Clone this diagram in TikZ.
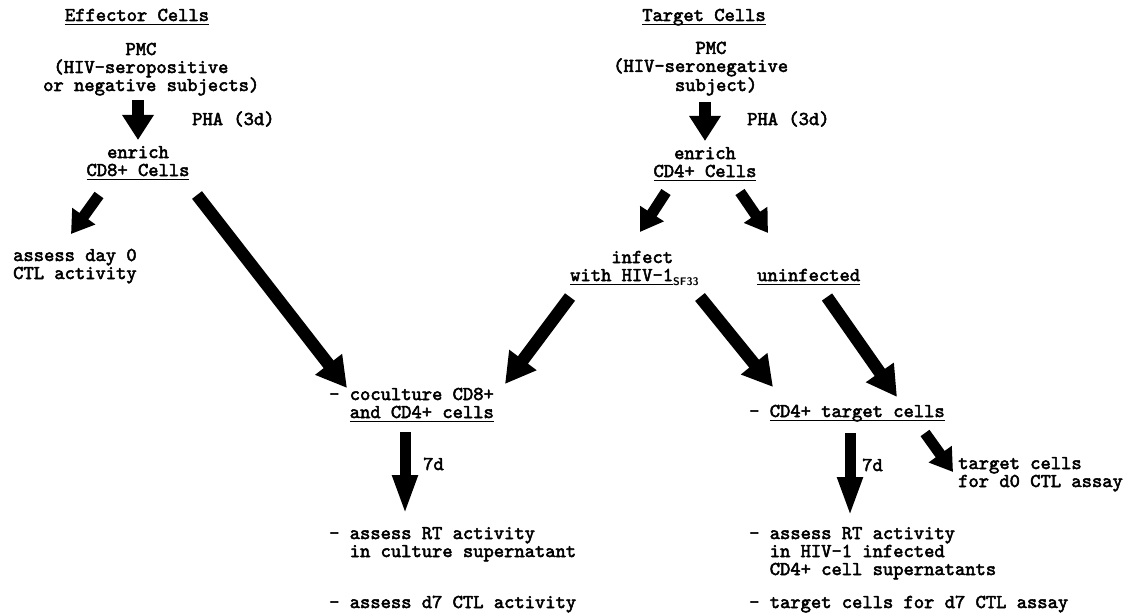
\documentclass[tikz,border=0pt]{standalone}
\usepackage{fontspec}
\setmonofont{lmmono10-regular}[Extension=.otf, AutoFakeBold=2.6]
\usetikzlibrary{arrows.meta}
\newcommand\mytt{\ttfamily\bfseries\fontsize{19.6}{18}\selectfont}
\newcommand\ind[1]{\hspace*{\dimexpr0.525em*#1\relax}}
\newcommand\undl[1]{\setbox0=\hbox{#1}\rlap{\vrule height -2.6pt depth 4.4pt width \wd0}\box0}
\begin{document}
\begin{tikzpicture}[x=1pt,y=-1pt,
  txt/.style={font=\mytt, inner sep=0pt, anchor=base west, align=left},
  ctxt/.style={txt, anchor=base, align=center},
  bigv/.style={line width=12pt, -{Triangle[length=25pt,width=30pt]}},
  diag/.style={line width=12.5pt, -{Triangle[length=30pt,width=32pt]}},
  sdiag/.style={line width=11pt, -{Triangle[length=22pt,width=27pt]}},
  longv/.style={line width=11pt, -{Triangle[length=40pt,width=23pt]}}]
\fill[white] (0,0) rectangle (1124,615);
\useasboundingbox (0,0) rectangle (1124,615);

% texts (multi-line nodes are placed by the baseline of their last line)
\node[ctxt] (effH) at (137,21) {\undl{Effector Cells}};
\node[txt] (effPMC) at (43,91) {\ind{8}PMC\\\ind{1}(HIV–seropositive\\or negative subjects)};
\node[txt] (phaE) at (192,125) {PHA (3d)};
\node[ctxt] (effEnr) at (138,176) {enrich\\\undl{CD8+ Cells}};
\node[txt] (day0) at (13,279) {assess day 0\\CTL activity};

\node[ctxt] (tgtH) at (704,21) {\undl{Target Cells}};
\node[txt] (tgtPMC) at (613,91) {\ind{8}PMC\\(HIV–seronegative\\\ind{6}subject)};
\node[txt] (phaT) at (747,125) {PHA (3d)};
\node[ctxt] (tgtEnr) at (705,177) {enrich\\\undl{CD4+ Cells}};
\node[txt] (infect) at (570,281) {\ind{4}infect\\\undl{with HIV-1}\raisebox{-4pt}{\sffamily\bfseries\fontsize{11}{11}\selectfont SF33}};
\node[txt] (uninf) at (757,281) {\undl{uninfected}};

\node[txt] (cocult) at (329,418) {- coculture CD8+\\\ind{2}\undl{and CD4+ cells}};
\node[txt] (cd4t) at (749,417) {- \undl{CD4+ target cells}};
\node[txt] (d7a) at (423,470) {7d};
\node[txt] (d7b) at (862,471) {7d};
\node[txt] (d0) at (958,487) {target cells\\for d0 CTL assay};
\node[txt] (rtL) at (329,557) {- assess RT activity\\\ind{2}in culture supernatant};
\node[txt] (ctlL) at (329,608) {- assess d7 CTL activity};
\node[txt] (rtR) at (749,575) {- assess RT activity\\\ind{2}in HIV-1 infected\\\ind{2}CD4+ cell supernatants};
\node[txt] (ctlR) at (749,608) {- target cells for d7 CTL assay};

% arrow end points
\coordinate (a1s) at (138,100); \coordinate (a1e) at (138,140);
\coordinate (a2s) at (705,102); \coordinate (a2e) at (705,141);
\coordinate (a3s) at (99,195);  \coordinate (a3e) at (71,234);
\coordinate (a4s) at (197,195); \coordinate (a4e) at (347,388);
\coordinate (a5s) at (666,192); \coordinate (a5e) at (640,232);
\coordinate (a6s) at (740,192); \coordinate (a6e) at (768,233);
\coordinate (a7s) at (570,297); \coordinate (a7e) at (505,384);
\coordinate (a8s) at (700,297); \coordinate (a8e) at (773,387);
\coordinate (a9s) at (827,297); \coordinate (a9e) at (897,397);
\coordinate (a10s) at (405,432); \coordinate (a10e) at (405,515);
\coordinate (a11s) at (850,433); \coordinate (a11e) at (850,517);
\coordinate (a12s) at (925,433); \coordinate (a12e) at (953,472);

\draw[bigv] (a1s) -- (a1e);
\draw[bigv] (a2s) -- (a2e);
\draw[sdiag] (a3s) -- (a3e);
\draw[diag] (a4s) -- (a4e);
\draw[sdiag] (a5s) -- (a5e);
\draw[sdiag] (a6s) -- (a6e);
\draw[diag] (a7s) -- (a7e);
\draw[diag] (a8s) -- (a8e);
\draw[diag] (a9s) -- (a9e);
\draw[longv] (a10s) -- (a10e);
\draw[longv] (a11s) -- (a11e);
\draw[sdiag] (a12s) -- (a12e);
\end{tikzpicture}
\end{document}
